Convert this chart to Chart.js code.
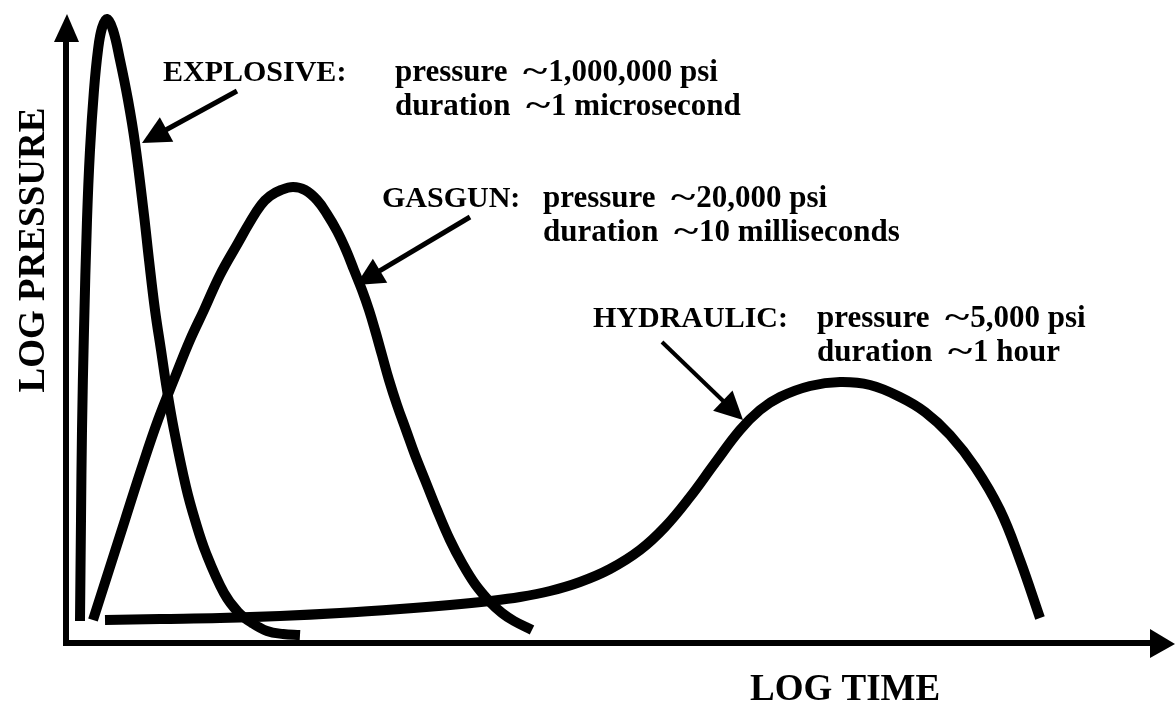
<!DOCTYPE html>
<html><head><meta charset="utf-8">
<script src="https://cdn.jsdelivr.net/npm/chart.js@4.4.1/dist/chart.umd.min.js"></script>
<style>html,body{margin:0;padding:0;background:#fff;}#wrap{width:1175px;height:706px;}</style>
</head><body><div id="wrap"><canvas id="c" width="1175" height="706"></canvas></div>
<script>
// Conceptual curves: log time (x) vs log pressure (y), arbitrary units
const explosiveX = [1.4,1.5,1.6,1.8,2.1,2.4,2.8,3.2,3.6,4.1,4.7,5.4,6.2,6.9,7.8,8.3,8.9,9.5,10.1,10.8,12.0,12.9,14.0,15.8,17.2,18.6,20.1,21.7,23.4];
const explosiveY = [2.2,12.3,21.3,31.3,42.3,49.3,55.3,59.3,61.5,62.4,61.3,58.3,54.3,50.0,42.8,38.3,33.3,29.3,25.3,21.3,15.6,12.3,9.0,5.0,3.1,2.0,1.2,0.9,0.8];
const gasgunX = [2.7,4.3,5.9,7.5,9.2,10.9,12.4,13.8,15.4,17.2,18.4,19.5,20.4,21.5,22.7,23.9,25.1,26.1,27.1,28.0,28.8,29.6,30.3,30.9,31.6,32.3,33.1,34.0,34.9,35.9,37.1,38.4,39.6,40.9,42.4,43.6,44.8,46.6];
const gasgunY = [2.3,7.3,12.3,17.3,22.3,26.6,30.3,33.3,36.8,40.0,42.1,43.8,44.7,45.3,45.6,45.3,44.3,42.9,41.2,39.3,37.3,35.3,33.3,31.3,28.8,26.3,23.8,21.3,18.8,16.3,13.3,10.3,8.0,5.9,4.1,3.0,2.2,1.3];
const hydraulicX = [3.9,9.4,15.4,21.4,27.4,33.4,38.4,42.4,45.4,48.4,51.4,54.4,57.4,59.9,62.4,64.9,67.4,69.4,71.4,74.4,77.4,80.4,83.4,85.9,88.4,90.9,93.4,95.4,97.4];
const hydraulicY = [2.3,2.4,2.5,2.7,3.0,3.4,3.8,4.2,4.6,5.2,6.1,7.4,9.3,11.6,14.6,18.0,21.3,23.3,24.6,25.7,26.1,25.8,24.6,23.1,20.8,17.6,13.3,8.3,2.5];

const seriesNames = ['EXPLOSIVE:', 'GASGUN:', 'HYDRAULIC:'];
const pressureLabels = ['pressure  ~1,000,000 psi', 'pressure  ~20,000 psi', 'pressure  ~5,000 psi'];
const durationLabels = ['duration  ~1 microsecond', 'duration  ~10 milliseconds', 'duration  ~1 hour'];
const axisTitles = ['LOG TIME', 'LOG PRESSURE'];

function pts(xs, ys){ return xs.map((x,i)=>({x:x, y:ys[i]})); }

// annotation layout (in axis units)
const labelPos = [
  {name:[9.7,56.2], info:[32.9,56.2], arrow:[17.1,55.2,7.6,50.0], aw:5},
  {name:[31.6,43.6], info:[47.7,43.6], arrow:[40.4,42.6,29.0,35.8], aw:5},
  {name:[52.7,31.6], info:[75.1,31.6], arrow:[59.6,30.1,67.7,22.3], aw:4}
];
const lineGap = 3.4;

const FONT = '"Liberation Serif", "Times New Roman", serif';

function arrow(ctx, x1, y1, x2, y2, w, hl, hw){
  const dx = x2-x1, dy = y2-y1, L = Math.hypot(dx,dy);
  const ux = dx/L, uy = dy/L;
  const bx = x2 - ux*hl, by = y2 - uy*hl;
  ctx.lineWidth = w; ctx.lineCap = 'butt';
  ctx.beginPath(); ctx.moveTo(x1,y1); ctx.lineTo(bx+ux*2, by+uy*2); ctx.stroke();
  ctx.beginPath(); ctx.moveTo(x2,y2);
  ctx.lineTo(bx - uy*hw, by + ux*hw);
  ctx.lineTo(bx + uy*hw, by - ux*hw);
  ctx.closePath(); ctx.fill();
}

function infoText(ctx, text, x, y){
  const parts = text.split('~');
  ctx.fillText(parts[0], x, y);
  let cx = x + ctx.measureText(parts[0]).width;
  const tw = ctx.measureText('~').width;
  ctx.save(); ctx.translate(cx, y); ctx.scale(1.5, 1); ctx.fillText('~', 0, 0); ctx.restore();
  cx += tw*1.5 + 1;
  ctx.fillText(parts[1], cx, y);
}

const decor = {
  id:'decor',
  afterDatasetsDraw(chart){
    const {ctx, chartArea:a, scales:{x, y}} = chart;
    ctx.save();
    ctx.fillStyle = '#000'; ctx.strokeStyle = '#000';
    // y axis with arrow
    ctx.lineWidth = 6; ctx.lineCap = 'butt';
    ctx.beginPath(); ctx.moveTo(a.left, a.bottom+3); ctx.lineTo(a.left, 40); ctx.stroke();
    ctx.beginPath(); ctx.moveTo(a.left+1, 14); ctx.lineTo(a.left-12, 42); ctx.lineTo(a.left+13, 42); ctx.closePath(); ctx.fill();
    // x axis with arrow
    ctx.beginPath(); ctx.moveTo(a.left-3, a.bottom); ctx.lineTo(1152, a.bottom); ctx.stroke();
    ctx.beginPath(); ctx.moveTo(1175, a.bottom+1); ctx.lineTo(1150, a.bottom-14); ctx.lineTo(1150, a.bottom+15); ctx.closePath(); ctx.fill();

    // annotations
    ctx.textBaseline = 'alphabetic'; ctx.textAlign = 'left';
    labelPos.forEach((p, i) => {
      ctx.font = 'bold 30px ' + FONT;
      ctx.fillText(seriesNames[i], x.getPixelForValue(p.name[0]), y.getPixelForValue(p.name[1]));
      ctx.font = 'bold 31px ' + FONT;
      infoText(ctx, pressureLabels[i], x.getPixelForValue(p.info[0]), y.getPixelForValue(p.info[1]));
      infoText(ctx, durationLabels[i], x.getPixelForValue(p.info[0]), y.getPixelForValue(p.info[1]-lineGap));
      const r = p.arrow;
      arrow(ctx, x.getPixelForValue(r[0]), y.getPixelForValue(r[1]), x.getPixelForValue(r[2]), y.getPixelForValue(r[3]), p.aw, 28, 14);
    });

    // axis titles
    ctx.font = 'bold 37px ' + FONT;
    ctx.textAlign = 'left';
    ctx.fillText(axisTitles[0], 750, 700);
    ctx.translate(44, 250); ctx.rotate(-Math.PI/2);
    ctx.textAlign = 'center';
    ctx.fillText(axisTitles[1], 0, 0);
    ctx.restore();
  }
};

const lineStyle = {borderColor:'#000', borderWidth:10, pointRadius:0, fill:false, tension:0.4,
  borderCapStyle:'butt', borderJoinStyle:'round', clip:false};

new Chart(document.getElementById('c'), {
  type:'line',
  data:{ datasets:[
    Object.assign({label:'Explosive', data:pts(explosiveX, explosiveY)}, lineStyle),
    Object.assign({label:'Gasgun', data:pts(gasgunX, gasgunY)}, lineStyle),
    Object.assign({label:'Hydraulic', data:pts(hydraulicX, hydraulicY)}, lineStyle)
  ]},
  options:{
    responsive:false, animation:false, devicePixelRatio:1,
    layout:{padding:{left:66, right:9, top:3, bottom:63}},
    scales:{
      x:{type:'linear', min:0, max:110, display:false},
      y:{type:'linear', min:0, max:64, display:false}
    },
    plugins:{legend:{display:false}, tooltip:{enabled:false}}
  },
  plugins:[decor]
});
</script></body></html>
